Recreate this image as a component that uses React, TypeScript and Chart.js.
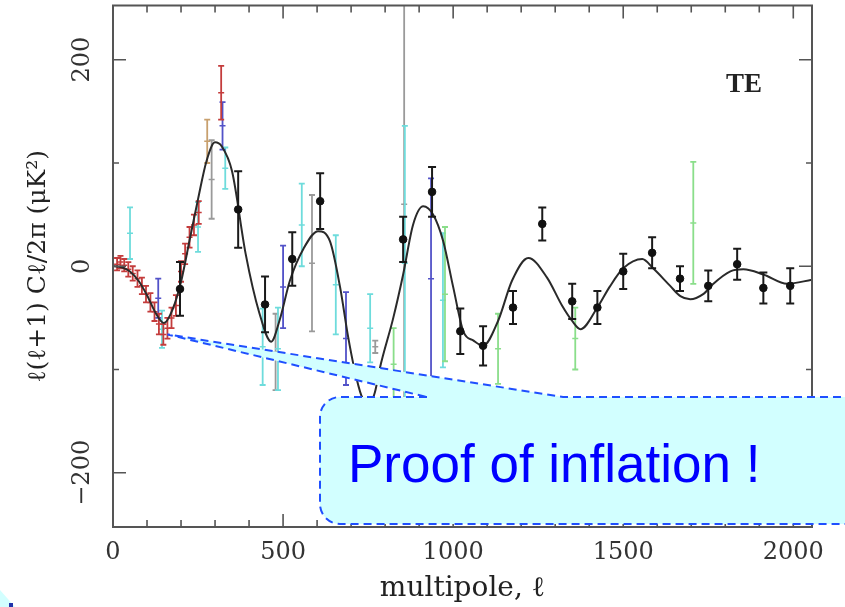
import React, { useEffect, useRef } from 'react';
import { Chart, registerables } from 'chart.js';

Chart.register(...registerables);

// ---- axes ----
const xTicks = [0, 500, 1000, 1500, 2000];
const yTicks = [-200, 0, 200];
const xMinorStep = 100;
const yMinorStep = 100;

// ---- theory curve (TE) ----
const theoryL = [2, 25, 50, 75, 100, 125, 150, 175, 200, 225, 250, 275, 300, 320, 350, 390, 430, 465, 490, 520, 560, 603, 638, 668, 690, 710, 730, 752, 770, 785, 824, 853, 882, 912, 941, 971, 1000, 1030, 1060, 1088, 1132, 1173, 1221, 1276, 1320, 1350, 1374, 1424, 1460, 1500, 1556, 1588, 1638, 1668, 1697, 1735, 1765, 1815, 1853, 1912, 1982, 2055];
const theoryV = [0, -1, -5, -14, -28, -45, -55, -42, -15, 25, 65, 102, 120, 116, 92, 12, -45, -73, -52, -14, 17, 34, 24, -21, -66, -100, -125, -135, -122, -98, -50, -8, 40, 58, 50, 24, -20, -63, -72, -77, -53, -14, 8, -11, -38, -53, -61, -40, -20, -2, 7, -2, -19, -29, -32, -27, -17, -5, -3, -8, -17, -13];

// ---- data points: multipole, value, error ----
const blackL = [197, 368, 447, 527, 609, 853, 938, 1021, 1088, 1176, 1262, 1350, 1424, 1500, 1585, 1667, 1750, 1835, 1912, 1991];
const blackV = [-22, 55, -37, 7, 63, 26, 72, -63, -77, -40, 41, -34, -40, -5, 13, -12, -19, 2, -21, -19];
const blackE = [26, 37, 27, 26, 27, 22, 24, 22, 19, 16, 16, 17, 16, 17, 15, 12, 15, 15, 15, 17];

const redL = [12, 22, 33, 45, 58, 72, 85, 97, 110, 122, 135, 148, 160, 172, 185, 200, 212, 225, 238, 252, 318];
const redV = [2, 4, 1, -3, -7, -12, -19, -27, -35, -44, -56, -66, -60, -50, -38, -5, 12, 28, 40, 52, 168];
const redE = [6, 6, 6, 7, 7, 8, 8, 8, 9, 9, 10, 10, 10, 10, 10, 10, 10, 10, 10, 11, 26];

const cyanL = [50, 144, 250, 330, 440, 485, 555, 655, 756, 858, 970];
const cyanV = [32, -61, 38, 95, -78, -80, 40, -18, -60, 3, -33];
const cyanE = [25, 18, 24, 20, 37, 40, 40, 48, 33, 133, 65];

const blueL = [133, 322, 500, 685, 935];
const blueV = [-31, 136, -20, -70, -12];
const blueE = [19, 23, 40, 45, 97];

const greenL = [825, 976, 1132, 1359, 1706];
const greenV = [-95, -27, -80, -70, 42];
const greenE = [35, 65, 34, 30, 59];

const grayL = [290, 478, 585, 771, 856];
const grayV = [84, -83, 3, -78, 60];
const grayE = [38, 37, 66, 6, 200];

const tanL = [277];
const tanV = [121];
const tanE = [21];

// ---- annotation ----
const calloutText = 'Proof of inflation !';
const calloutTarget = { l: 160, v: -66 };
const panelLabel = 'TE';

const toPts = (L: number[], V: number[]) => L.map((l, i) => ({ x: l, y: V[i] }));

const errorBarPlugin = {
  id: 'errorBars',
  beforeDatasetDraw(chart: any, args: any) {
    const ds = chart.data.datasets[args.index];
    if (!ds.errors) return;
    const { ctx, chartArea, scales } = chart;
    const xs = scales.x, ys = scales.y;
    ctx.save();
    ctx.beginPath();
    ctx.rect(chartArea.left, chartArea.top, chartArea.right - chartArea.left, chartArea.bottom - chartArea.top);
    ctx.clip();
    ctx.strokeStyle = ds.barColor;
    ctx.lineWidth = ds.barWidth;
    const cap = ds.capHalf;
    ds.data.forEach((p: any, i: number) => {
      const e = ds.errors[i];
      const px = xs.getPixelForValue(p.x);
      const y1 = ys.getPixelForValue(p.y + e);
      const y2 = ys.getPixelForValue(p.y - e);
      ctx.beginPath();
      ctx.moveTo(px, y1); ctx.lineTo(px, y2);
      ctx.moveTo(px - cap, y1); ctx.lineTo(px + cap, y1);
      ctx.moveTo(px - cap, y2); ctx.lineTo(px + cap, y2);
      ctx.stroke();
    });
    ctx.restore();
  },
};

const framePlugin = {
  id: 'frame',
  afterDraw(chart: any) {
    const { ctx, chartArea: a, scales } = chart;
    const xs = scales.x, ys = scales.y;
    ctx.save();
    ctx.strokeStyle = '#555';
    ctx.lineWidth = 2;
    ctx.strokeRect(a.left, a.top, a.right - a.left, a.bottom - a.top);
    ctx.lineWidth = 1.6;
    ctx.beginPath();
    for (let v = xMinorStep; v <= xs.max; v += xMinorStep) {
      const px = xs.getPixelForValue(v);
      const len = xTicks.includes(v) ? 13 : 7;
      ctx.moveTo(px, a.bottom); ctx.lineTo(px, a.bottom - len);
      ctx.moveTo(px, a.top); ctx.lineTo(px, a.top + len);
    }
    for (let v = Math.ceil(ys.min / yMinorStep) * yMinorStep; v <= ys.max; v += yMinorStep) {
      const py = ys.getPixelForValue(v);
      const len = yTicks.includes(v) ? 13 : 6;
      ctx.moveTo(a.left, py); ctx.lineTo(a.left + len, py);
      ctx.moveTo(a.right, py); ctx.lineTo(a.right - len, py);
    }
    ctx.stroke();
    // panel label
    ctx.fillStyle = '#222';
    ctx.font = 'bold 27px "Liberation Serif", serif';
    ctx.textAlign = 'center';
    ctx.textBaseline = 'middle';
    ctx.fillText(panelLabel, a.right - 68, a.top + 80);
    ctx.restore();
  },
};

const calloutPlugin = {
  id: 'callout',
  afterDraw(chart: any) {
    const { ctx, scales } = chart;
    const tipX = scales.x.getPixelForValue(calloutTarget.l);
    const tipY = scales.y.getPixelForValue(calloutTarget.v);
    const fill = '#d2ffff';
    const border = '#1f4fff';
    const bx = 320, by = 397, bb = 524, br = 880, r = 20;
    const wA = 427, wB = 563;
    ctx.save();
    ctx.fillStyle = fill;
    ctx.beginPath();
    ctx.moveTo(tipX, tipY); ctx.lineTo(wB, by); ctx.lineTo(wA, by); ctx.closePath();
    ctx.fill();
    ctx.beginPath();
    ctx.moveTo(bx + r, by); ctx.lineTo(br, by); ctx.lineTo(br, bb); ctx.lineTo(bx + r, bb);
    ctx.arcTo(bx, bb, bx, bb - r, r);
    ctx.lineTo(bx, by + r);
    ctx.arcTo(bx, by, bx + r, by, r);
    ctx.closePath();
    ctx.fill();
    ctx.setLineDash([8, 5]);
    ctx.lineWidth = 2;
    ctx.strokeStyle = border;
    ctx.beginPath();
    ctx.moveTo(wA, by); ctx.lineTo(bx + r, by);
    ctx.arcTo(bx, by, bx, by + r, r);
    ctx.lineTo(bx, bb - r);
    ctx.arcTo(bx, bb, bx + r, bb, r);
    ctx.lineTo(br, bb);
    ctx.stroke();
    ctx.beginPath();
    ctx.moveTo(br, by); ctx.lineTo(wB, by); ctx.lineTo(tipX, tipY); ctx.lineTo(wA, by);
    ctx.stroke();
    ctx.setLineDash([]);
    ctx.fillStyle = '#0000ff';
    ctx.font = '53px "Liberation Sans", Arial, sans-serif';
    ctx.textAlign = 'left';
    ctx.textBaseline = 'alphabetic';
    ctx.fillText(calloutText, 348, 482);
    // corner fragment of another shape
    ctx.fillStyle = fill;
    ctx.beginPath();
    ctx.moveTo(0, 590); ctx.lineTo(15, 607); ctx.lineTo(0, 607); ctx.closePath();
    ctx.fill();
    ctx.fillStyle = '#2233aa';
    ctx.fillRect(9, 603, 4, 4);
    ctx.restore();
  },
};

const colored = (L: number[], V: number[], E: number[], color: string, w = 1.8) => ({
  type: 'scatter',
  data: toPts(L, V),
  errors: E,
  barColor: color,
  barWidth: w,
  capHalf: 3,
  pointStyle: 'line',
  pointRadius: 3,
  borderColor: color,
  backgroundColor: color,
  borderWidth: 1.5,
});

export default function App() {
  const ref = useRef<HTMLCanvasElement | null>(null);
  useEffect(() => {
    document.body.style.margin = '0';
    if (!ref.current) return;
    const serif = 'DejaVu Serif';
    const chart = new Chart(ref.current, {
      type: 'scatter',
      data: {
        datasets: [
          {
            type: 'scatter',
            data: toPts(blackL, blackV),
            errors: blackE,
            barColor: '#1a1a1a',
            barWidth: 2,
            capHalf: 4,
            pointStyle: 'circle',
            pointRadius: 3.8,
            backgroundColor: '#111',
            borderColor: '#111',
            borderWidth: 1,
          } as any,
          {
            type: 'scatter',
            data: toPts(theoryL, theoryV),
            showLine: true,
            cubicInterpolationMode: 'monotone',
            borderColor: '#2a2a2a',
            borderWidth: 2,
            pointRadius: 0,
          } as any,
          colored(redL, redV, redE, '#c43c3c') as any,
          colored(tanL, tanV, tanE, '#c8a06e') as any,
          colored(blueL, blueV, blueE, '#5252c8') as any,
          colored(greenL, greenV, greenE, '#8ade8a') as any,
          colored(cyanL, cyanV, cyanE, '#6edcdc') as any,
          colored(grayL, grayV, grayE, '#9a9a9a') as any,
        ],
      },
      options: {
        responsive: false,
        animation: false,
        layout: { padding: { top: 3, right: 33, bottom: 0, left: 0 } },
        plugins: { legend: { display: false }, tooltip: { enabled: false } },
        scales: {
          x: {
            type: 'linear',
            min: 0,
            max: 2055,
            afterBuildTicks: (s: any) => { s.ticks = xTicks.map((v) => ({ value: v })); },
            afterFit: (s: any) => { s.height = 80; s.paddingLeft = 0; s.paddingRight = 0; },
            grid: { display: false, drawTicks: false },
            border: { display: false },
            ticks: {
              padding: 11,
              maxRotation: 0,
              color: '#333',
              font: { family: serif, size: 24 },
              callback: (v: any) => String(v),
            },
            title: { display: true, text: 'multipole, ℓ', color: '#222', font: { family: serif, size: 28 }, padding: { top: 0, bottom: 1 } },
          },
          y: {
            type: 'linear',
            min: -252.5,
            max: 252.5,
            afterBuildTicks: (s: any) => { s.ticks = yTicks.map((v) => ({ value: v })); },
            afterFit: (s: any) => { s.width = 113; s.paddingTop = 0; s.paddingBottom = 0; },
            grid: { display: false, drawTicks: false },
            border: { display: false },
            ticks: {
              padding: -3,
              minRotation: 90,
              maxRotation: 90,
              crossAlign: 'center',
              color: '#333',
              font: { family: serif, size: 24 },
              callback: (v: any) => (v < 0 ? '\u2212' + Math.abs(v) : String(v)),
            },
            title: { display: true, text: 'ℓ(ℓ+1) Cℓ/2π (μK²)', color: '#222', font: { family: serif, size: 25 }, padding: { top: 23, bottom: 0 } },
          },
        },
      } as any,
      plugins: [errorBarPlugin, framePlugin, calloutPlugin],
    });
    return () => chart.destroy();
  }, []);
  return (
    <div style={{ width: 845, height: 607 }}>
      <canvas ref={ref} width={845} height={607} style={{ display: 'block' }} />
    </div>
  );
}
